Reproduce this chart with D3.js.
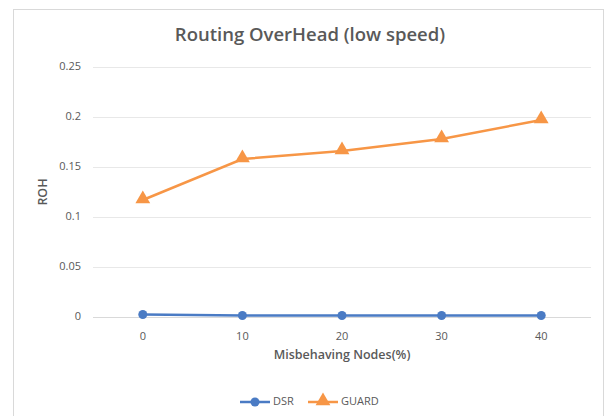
<!DOCTYPE html>
<html>
<head>
<meta charset="utf-8">
<script src="https://cdn.jsdelivr.net/npm/d3@7"></script>
<style>
  body { margin: 0; background: #fff; }
  text { font-family: "Open Sans", sans-serif; fill: #595959; }
</style>
</head>
<body>
<div id="chart"></div>
<script>
var categories = ['0', '10', '20', '30', '40'];
var dsrValues = [0.0025, 0.0015, 0.0015, 0.0015, 0.0015];
var guardValues = [0.117, 0.158, 0.166, 0.178, 0.197];
var yTicks = [0, 0.05, 0.1, 0.15, 0.2, 0.25];
var seriesNames = ['DSR', 'GUARD'];
var seriesColors = ['#4a7bc4', '#f79646'];

var width = 610, height = 416;
var plotLeft = 93, plotRight = 591, plotTop = 67, plotBottom = 317;

var svg = d3.select('#chart').append('svg')
  .attr('width', width)
  .attr('height', height);

// chart frame
svg.append('rect')
  .attr('x', 13.5).attr('y', 9.5)
  .attr('width', 590).attr('height', 420)
  .attr('fill', '#fff')
  .attr('stroke', '#d9d9d9');

var x = d3.scaleBand().domain(categories).range([plotLeft, plotRight]);
var y = d3.scaleLinear().domain([0, 0.25]).range([plotBottom, plotTop]);

// gridlines
svg.append('g').selectAll('line').data(yTicks).enter().append('line')
  .attr('x1', plotLeft).attr('x2', plotRight)
  .attr('y1', function(d) { return Math.round(y(d)) + 0.5; })
  .attr('y2', function(d) { return Math.round(y(d)) + 0.5; })
  .attr('stroke', function(d) { return d === 0 ? '#d9d9d9' : '#e8e8e8'; })
  .attr('stroke-width', 1);

// y tick labels
svg.append('g').selectAll('text').data(yTicks).enter().append('text')
  .attr('x', plotLeft - 12)
  .attr('y', function(d) { return y(d); })
  .attr('text-anchor', 'end')
  .attr('dominant-baseline', 'middle')
  .style('font-size', '11px')
  .text(function(d) { return d3.format('')(d); });

// x tick labels
svg.append('g').selectAll('text').data(categories).enter().append('text')
  .attr('x', function(d) { return x(d) + x.bandwidth() / 2; })
  .attr('y', plotBottom + 20)
  .attr('text-anchor', 'middle')
  .attr('dominant-baseline', 'middle')
  .style('font-size', '11px')
  .text(function(d) { return d; });

// title
svg.append('text')
  .attr('x', 310).attr('y', 36)
  .attr('text-anchor', 'middle')
  .attr('dominant-baseline', 'middle')
  .style('font-size', '18.5px')
  .style('font-weight', '600')
  .text('Routing OverHead (low speed)');

// axis titles
svg.append('text')
  .attr('x', plotLeft + (plotRight - plotLeft) / 2).attr('y', 356)
  .attr('text-anchor', 'middle')
  .attr('dominant-baseline', 'middle')
  .style('font-size', '12.5px')
  .style('font-weight', '600')
  .text('Misbehaving Nodes(%)');

svg.append('text')
  .attr('transform', 'translate(44,' + (plotTop + plotBottom) / 2 + ') rotate(-90)')
  .attr('text-anchor', 'middle')
  .attr('dominant-baseline', 'middle')
  .style('font-size', '12.5px')
  .style('font-weight', '600')
  .text('ROH');

var line = d3.line()
  .x(function(d, i) { return x(categories[i]) + x.bandwidth() / 2; })
  .y(function(d) { return y(d); });

var triangle = d3.symbol().type(d3.symbolTriangle).size(95);

[dsrValues, guardValues].forEach(function(vals, s) {
  svg.append('path').datum(vals)
    .attr('fill', 'none')
    .attr('stroke', seriesColors[s])
    .attr('stroke-width', 2.5)
    .attr('d', line);
  var g = svg.append('g');
  if (s === 0) {
    g.selectAll('circle').data(vals).enter().append('circle')
      .attr('cx', function(d, i) { return x(categories[i]) + x.bandwidth() / 2; })
      .attr('cy', function(d) { return y(d); })
      .attr('r', 4.5)
      .attr('fill', seriesColors[s]);
  } else {
    g.selectAll('path').data(vals).enter().append('path')
      .attr('transform', function(d, i) {
        return 'translate(' + (x(categories[i]) + x.bandwidth() / 2) + ',' + (y(d) - 1) + ')';
      })
      .attr('d', triangle)
      .attr('fill', seriesColors[s]);
  }
});

// legend
var legendX = [240, 308];
seriesNames.forEach(function(name, s) {
  var lg = svg.append('g').attr('transform', 'translate(' + legendX[s] + ',402)');
  lg.append('line').attr('x1', 0).attr('x2', 30).attr('y1', 0).attr('y2', 0)
    .attr('stroke', seriesColors[s]).attr('stroke-width', 2.5);
  if (s === 0) {
    lg.append('circle').attr('cx', 15).attr('cy', 0).attr('r', 4.5).attr('fill', seriesColors[s]);
  } else {
    lg.append('path').attr('transform', 'translate(15,-1)').attr('d', triangle).attr('fill', seriesColors[s]);
  }
  lg.append('text').attr('x', 33).attr('y', 0)
    .attr('dominant-baseline', 'middle')
    .style('font-size', '11px')
    .text(name);
});
</script>
</body>
</html>
